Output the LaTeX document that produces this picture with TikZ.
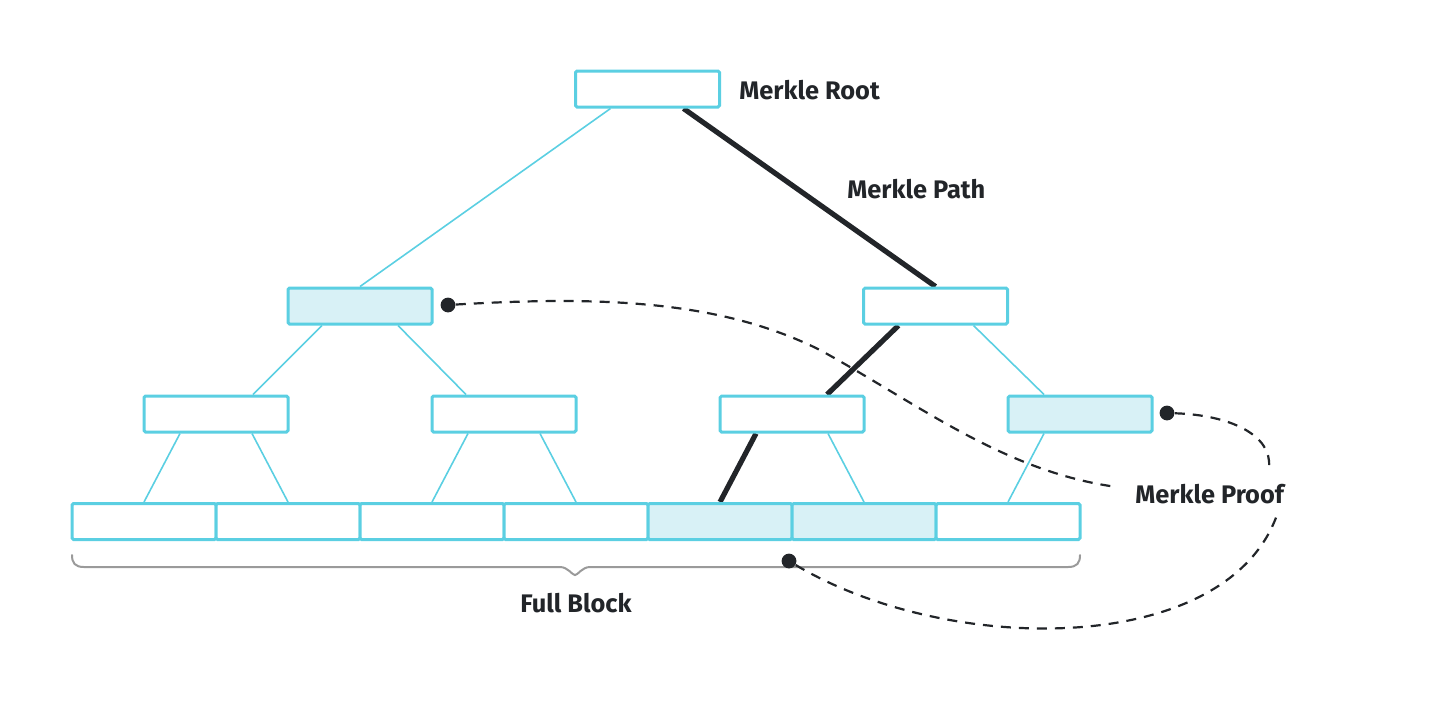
\documentclass[tikz,border=0pt]{standalone}
\usepackage{fontspec}
\setmainfont{Fira Sans}
\usetikzlibrary{backgrounds}
\definecolor{cy}{HTML}{5BCFE2}
\definecolor{cyfill}{HTML}{D8F1F6}
\definecolor{ink}{HTML}{222529}
\definecolor{bracegray}{HTML}{9A9A9A}
\begin{document}
\begin{tikzpicture}[x=0.5pt,y=-0.5pt,
  box/.style={draw=cy, line width=1.5pt, fill=white, minimum width=72pt, minimum height=18pt, inner sep=0pt, rounded corners=0.8pt},
  hl/.style={box, fill=cyfill},
  tree/.style={draw=cy, line width=0.8pt},
  mpath/.style={draw=ink, line width=2.6pt},
  dot/.style={circle, fill=ink, minimum size=7.4pt, inner sep=0pt},
  lbl/.style={font=\bfseries\fontsize{12.7}{15}\selectfont, text=ink, inner sep=0pt},
  proof/.style={draw=ink, line width=1.1pt, dash pattern=on 5pt off 4pt}]
\useasboundingbox (0,0) rectangle (1440,720);
% tree nodes
\node[box] (root) at (647.5,89) {};
\node[hl]  (l2a) at (360,306) {};
\node[box] (l2b) at (935.5,306) {};
\node[box] (l3a) at (216,414) {};
\node[box] (l3b) at (504,414) {};
\node[box] (l3c) at (792,414) {};
\node[hl]  (l3d) at (1080,414) {};
\node[box] (f1) at (144,521.5) {};
\node[box] (f2) at (288,521.5) {};
\node[box] (f3) at (432,521.5) {};
\node[box] (f4) at (576,521.5) {};
\node[hl]  (f5) at (720,521.5) {};
\node[hl]  (f6) at (864,521.5) {};
\node[box] (f7) at (1008,521.5) {};
% edges
\begin{scope}[on background layer]
\draw[tree] ([xshift=-18.5pt]root.south) -- (l2a.north);
\draw[mpath] ([xshift=18pt]root.south) -- (l2b.north);
\draw[tree] ([xshift=-19pt]l2a.south) -- ([xshift=18.5pt]l3a.north);
\draw[tree] ([xshift=19pt]l2a.south) -- ([xshift=-19pt]l3b.north);
\draw[mpath] ([xshift=-18.5pt]l2b.south) -- ([xshift=17.5pt]l3c.north);
\draw[tree] ([xshift=19pt]l2b.south) -- ([xshift=-18pt]l3d.north);
\draw[tree] ([xshift=-18pt]l3a.south) -- (f1.north);
\draw[tree] ([xshift=18pt]l3a.south) -- (f2.north);
\draw[tree] ([xshift=-18pt]l3b.south) -- (f3.north);
\draw[tree] ([xshift=18pt]l3b.south) -- (f4.north);
\draw[mpath] ([xshift=-18pt]l3c.south) -- (f5.north);
\draw[tree] ([xshift=18pt]l3c.south) -- (f6.north);
\draw[tree] ([xshift=-18pt]l3d.south) -- (f7.north);
\end{scope}
% brace
\draw[bracegray, line width=1pt, line cap=round]
  (72,555) .. controls (72,563) and (75,567) .. (84,567) -- (560,567)
  .. controls (568,567) and (572,575) .. (575,575)
  .. controls (578,575) and (582,567) .. (590,567) -- (1068,567)
  .. controls (1077,567) and (1080,563) .. (1080,555);
% labels
\node[lbl, anchor=west] (troot) at (739,90) {Merkle Root};
\node[lbl, anchor=west] (tpath) at (847,189) {Merkle Path};
\node[lbl, anchor=west] (tproof) at (1135,494) {Merkle Proof};
\node[lbl] (tblock) at (576,603) {Full Block};
% dots and proof curves
\node[dot] (d1) at (448,305) {};
\node[dot] (d2) at (1167,413) {};
\node[dot] (d3) at (789,561) {};
\coordinate (e1) at (1117,487);
\coordinate (e2) at (1269,467);
\coordinate (e3) at (1278,512);
\draw[proof] (d1) .. controls (600,296) and (720,300) .. (820,350) .. controls (920,405) and (1005,472) .. (e1);
\draw[proof] (d2) .. controls (1230,415) and (1272,435) .. (e2);
\draw[proof] (d3) .. controls (950,657) and (1230,657) .. (e3);
\end{tikzpicture}
\end{document}
